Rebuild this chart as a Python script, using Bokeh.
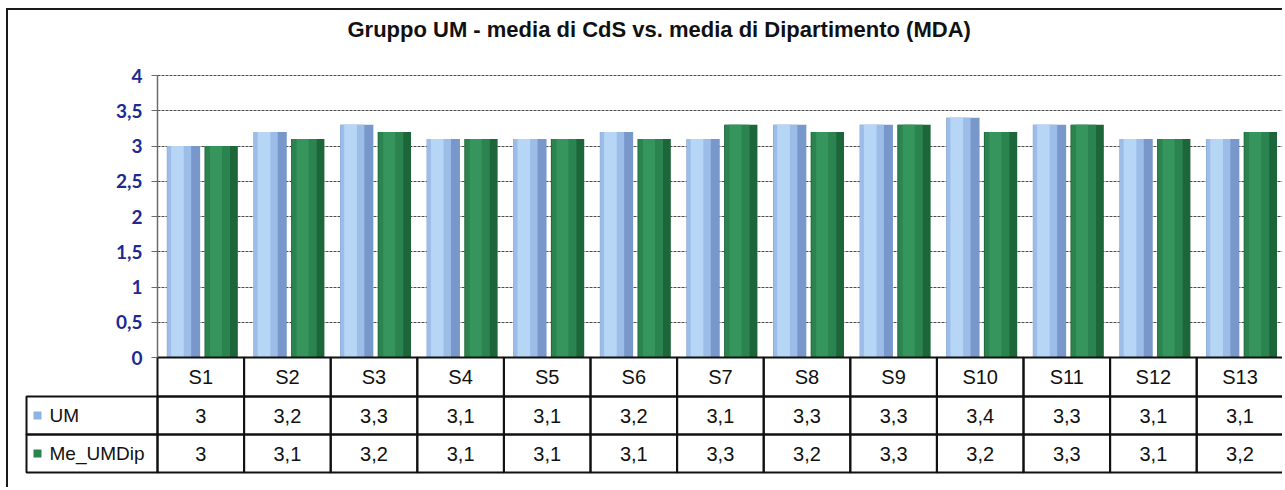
import numpy as np
from bokeh.plotting import figure
from bokeh.models import (LinearAxis, FixedTicker, Grid, Range1d,
                          CustomJSTickFormatter, Title)
from bokeh.core.properties import value
from bokeh.embed import file_html
from bokeh.resources import INLINE

# ---------------- data ----------------
categories = ["S1", "S2", "S3", "S4", "S5", "S6", "S7", "S8", "S9", "S10", "S11", "S12", "S13"]
um = [3, 3.2, 3.3, 3.1, 3.1, 3.2, 3.1, 3.3, 3.3, 3.4, 3.3, 3.1, 3.1]
me_umdip = [3, 3.1, 3.2, 3.1, 3.1, 3.1, 3.3, 3.2, 3.3, 3.2, 3.3, 3.1, 3.2]
series_names = ["UM", "Me_UMDip"]
y_ticks = [0, 0.5, 1, 1.5, 2, 2.5, 3, 3.5, 4]
title_text = "Gruppo UM - media di CdS vs. media di Dipartimento (MDA)"

# ---------------- layout constants (pixels) ----------------
W, H = 1276, 479
ORIG_X, ORIG_Y = 8, 10           # canvas origin on page (margin + 2px border)
TITLE_H = 35                      # title panel height
AX_PX = 157                       # page x of the value axis
COL_W = 86.6                      # px per category column
Y0_PX = 357                       # page y of value 0
PPU = 70.5                        # px per value unit
LEG_L_PX = 26

def px_x(px):
    return (px - AX_PX) / COL_W

def px_y(py):
    return (Y0_PX - py) / PPU

x_start, x_end = px_x(ORIG_X), px_x(ORIG_X + W)
y_start, y_end = px_y(ORIG_Y + H), px_y(ORIG_Y + TITLE_H)

p = figure(width=W, height=H, x_range=Range1d(x_start, x_end), y_range=Range1d(y_start, y_end),
           x_axis_location=None, y_axis_location=None, toolbar_location=None,
           output_backend="svg", min_border=0, outline_line_color=None)
p.grid.visible = False
p.styles = {"border-left": "2px solid #1a1a1a", "border-top": "2px solid #1a1a1a",
            "margin-left": "6px", "margin-top": "8px"}

p.add_layout(Title(text=title_text, align="left", text_font="Liberation Sans",
                   text_font_size="22px", text_font_style="bold", text_color="#111111",
                   offset=347 - ORIG_X, standoff=8), "above")

# value axis
fmt = CustomJSTickFormatter(code="return tick.toString().replace('.', ',')")
yaxis = LinearAxis(fixed_location=0, bounds=(0, 4), ticker=FixedTicker(ticks=y_ticks),
                   formatter=fmt, axis_line_color="#6b6b6b", axis_line_width=1.5,
                   major_tick_line_color="#6b6b6b", major_tick_out=6, major_tick_in=0,
                   minor_tick_out=0, minor_tick_in=0,
                   major_label_text_font="Lato", major_label_text_font_style="bold",
                   major_label_text_font_size="19px", major_label_text_color="#1c2a92",
                   major_label_standoff=9)
p.add_layout(yaxis, "left")

grid = Grid(dimension=1, ticker=FixedTicker(ticks=y_ticks[1:]), grid_line_color="#4d4d4d",
            grid_line_dash="3 1", grid_line_width=1, cross_bounds=(0, x_end))
p.add_layout(grid)

# ---------------- bars ----------------
xc = np.arange(len(categories)) + 0.5

UM_OFF, ME_OFF, BW = -0.2, 0.235, 0.385
# UM (light blue, shaded)
p.vbar(x=xc + UM_OFF, top=um, width=BW, bottom=0, fill_color="#7897ca", line_color=None)
p.vbar(x=xc + UM_OFF - 0.05, top=um, width=BW * 0.72, bottom=0, fill_color="#9cbde8", line_color=None)
p.vbar(x=xc + UM_OFF - 0.07, top=um, width=BW * 0.38, bottom=0, fill_color="#b7d5f5", line_color=None)
# Me_UMDip (green, shaded)
p.vbar(x=xc + ME_OFF, top=me_umdip, width=BW, bottom=0, fill_color="#1d6639", line_color=None)
p.vbar(x=xc + ME_OFF - 0.04, top=me_umdip, width=BW * 0.74, bottom=0, fill_color="#2b8450", line_color=None)
p.vbar(x=xc + ME_OFF - 0.06, top=me_umdip, width=BW * 0.36, bottom=0, fill_color="#35955d", line_color=None)

# ---------------- data table ----------------
row_px = [(357, 396), (396, 434), (434, 472)]
row_c = [px_y((a + b) / 2) for a, b in row_px]
row_h = [(b - a) / PPU for a, b in row_px]
LINE = dict(fill_color=None, line_color="#111111", line_width=2)
for yc, hh in zip(row_c, row_h):
    p.rect(x=xc, y=yc, width=1, height=hh, **LINE)
leg_l = px_x(LEG_L_PX)
for yc, hh in zip(row_c[1:], row_h[1:]):
    p.rect(x=leg_l / 2, y=yc, width=-leg_l, height=hh, **LINE)

TXT = dict(text_align="center", text_baseline="middle", text_font=value("Liberation Sans"),
           text_font_size="20px", text_color="#111111")
fmtv = lambda v: f"{v:g}".replace(".", ",")
p.text(x=xc, y=row_c[0], text=categories, **TXT)
p.text(x=xc, y=row_c[1], text=[fmtv(v) for v in um], **TXT)
p.text(x=xc, y=row_c[2], text=[fmtv(v) for v in me_umdip], **TXT)

# legend keys inside the table
p.scatter(x=px_x(37), y=row_c[1:], marker="square", size=8,
          fill_color=["#8fb3e3", "#2b8450"], line_color=None)
p.text(x=px_x(49), y=row_c[1:], text=series_names, text_align="left", text_baseline="middle",
       text_font=value("Liberation Sans"), text_font_size="19px", text_color="#111111")

open("out.html", "w").write(file_html(p, INLINE))
